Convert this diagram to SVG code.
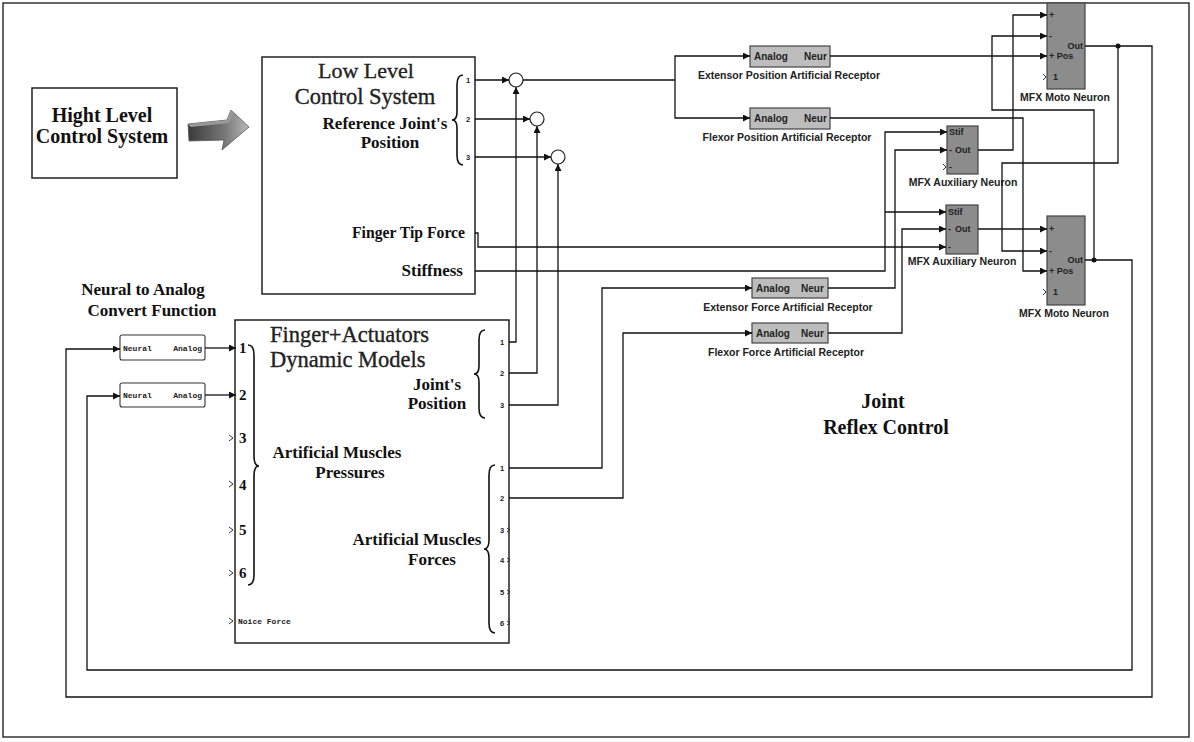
<svg xmlns="http://www.w3.org/2000/svg" width="1194" height="742" viewBox="0 0 1194 742">
<style>
.ln{fill:none;stroke:#111;stroke-width:1.3}
.box{fill:#fff;stroke:#222;stroke-width:1.5}
.rec{fill:#bdbdbd;stroke:#444;stroke-width:1.2}
.neu{fill:#8c8c8c;stroke:#444;stroke-width:1.2}
.nab{fill:#fff;stroke:#333;stroke-width:1.1}
.br{fill:none;stroke:#111;stroke-width:1.6}
.sb{font-family:"Liberation Serif","Times New Roman",serif;font-weight:bold;fill:#111}
.sr{font-family:"Liberation Serif","Times New Roman",serif;fill:#222;stroke:#222;stroke-width:0.35}
.ss{font-family:"Liberation Sans",Arial,sans-serif;font-weight:bold;fill:#222}
.sm{font-family:"Liberation Mono","Courier New",monospace;font-weight:bold;fill:#222}
.c{text-anchor:middle}
.e{text-anchor:end}
.dot{fill:#111}
</style>
<defs>
<marker id="ar" markerUnits="userSpaceOnUse" markerWidth="8" markerHeight="8" refX="7" refY="3.5" orient="auto">
<path d="M0,0 L7,3.5 L0,7 z" fill="#111"/>
</marker>
<linearGradient id="ag" x1="0" y1="0" x2="1" y2="0">
<stop offset="0" stop-color="#3a3a3a"/>
<stop offset="0.6" stop-color="#777"/>
<stop offset="1" stop-color="#bbb"/>
</linearGradient>
</defs>
<rect x="3" y="3" width="1186" height="734" fill="#fff" stroke="#333" stroke-width="1.5"/>

<g id="high-level">
<rect class="box" x="32" y="88" width="145" height="90"/>
<text class="sb c" x="102" y="122" font-size="20">Hight Level</text>
<text class="sb c" x="102" y="143" font-size="20">Control System</text>
</g>
<g id="big-arrow">
<polygon points="188,124 227,120 231,110 249,127 222,150 224,140 189,141" fill="url(#ag)" stroke="#555" stroke-width="0.8"/>
<polygon points="188,124 227,120 231,110 234,113 229,123 191,127" fill="#999"/>
</g>

<g id="low-level">
<rect class="box" x="262" y="57" width="213" height="237"/>
<text class="sr c" x="366" y="78" font-size="22">Low Level</text>
<text class="sr c" x="365" y="104" font-size="22.5">Control System</text>
<text class="sb c" x="385" y="129" font-size="17">Reference Joint's</text>
<text class="sb c" x="390" y="148" font-size="17">Position</text>
<path class="br" d="M463,75 Q457,75 457,85 L457,112 Q457,120 452,120 Q457,120 457,128 L457,155 Q457,165 463,165"/>
<text class="ss" x="466" y="83" font-size="7.5">1</text>
<text class="ss" x="466" y="122" font-size="7.5">2</text>
<text class="ss" x="466" y="160" font-size="7.5">3</text>
<text class="sb e" x="465" y="238" font-size="15.7">Finger Tip Force</text>
<text class="sb e" x="463" y="276" font-size="17">Stiffness</text>
</g>

<g id="sum1"><circle cx="516" cy="80" r="7" fill="#fff" stroke="#222" stroke-width="1.2"/></g>
<g id="sum2"><circle cx="537" cy="119" r="7" fill="#fff" stroke="#222" stroke-width="1.2"/></g>
<g id="sum3"><circle cx="558" cy="157" r="7" fill="#fff" stroke="#222" stroke-width="1.2"/></g>

<g id="ext-pos-receptor">
<rect class="rec" x="750" y="46" width="80" height="21"/>
<text class="ss" x="754" y="60" font-size="10">Analog</text>
<text class="ss" x="804" y="60" font-size="10">Neur</text>
<text class="ss c" x="789" y="79" font-size="10.5">Extensor Position Artificial Receptor</text>
</g>
<g id="flex-pos-receptor">
<rect class="rec" x="750" y="108" width="80" height="21"/>
<text class="ss" x="754" y="122" font-size="10">Analog</text>
<text class="ss" x="804" y="122" font-size="10">Neur</text>
<text class="ss c" x="787" y="141" font-size="10.5">Flexor Position Artificial Receptor</text>
</g>
<g id="ext-force-receptor">
<rect class="rec" x="752" y="278" width="76" height="20"/>
<text class="ss" x="756" y="292" font-size="10">Analog</text>
<text class="ss" x="801" y="292" font-size="10">Neur</text>
<text class="ss c" x="788" y="311" font-size="10.5">Extensor Force Artificial Receptor</text>
</g>
<g id="flex-force-receptor">
<rect class="rec" x="752" y="323" width="76" height="20"/>
<text class="ss" x="756" y="337" font-size="10">Analog</text>
<text class="ss" x="801" y="337" font-size="10">Neur</text>
<text class="ss c" x="786" y="356" font-size="10.5">Flexor Force Artificial Receptor</text>
</g>

<g id="aux-neuron-1">
<rect class="neu" x="947" y="126" width="31" height="48"/>
<text class="ss" x="949" y="135" font-size="9">Stif</text>
<text class="ss" x="949" y="153" font-size="9">-</text>
<text class="ss" x="955" y="153" font-size="9">Out</text>
<text class="ss" x="949" y="170" font-size="9">-</text>
<text class="ss c" x="963" y="186" font-size="10.5">MFX Auxiliary Neuron</text>
</g>
<g id="aux-neuron-2">
<rect class="neu" x="946" y="205" width="32" height="49"/>
<text class="ss" x="948" y="215" font-size="9">Stif</text>
<text class="ss" x="948" y="232" font-size="9">-</text>
<text class="ss" x="955" y="232" font-size="9">Out</text>
<text class="ss" x="948" y="250" font-size="9">-</text>
<text class="ss c" x="962" y="265" font-size="10.5">MFX Auxiliary Neuron</text>
</g>
<g id="moto-neuron-1">
<rect class="neu" x="1047" y="3" width="38" height="86"/>
<text class="ss" x="1049" y="18" font-size="9">+</text>
<text class="ss" x="1049" y="39" font-size="9">-</text>
<text class="ss" x="1049" y="59" font-size="9">+ Pos</text>
<text class="ss" x="1053" y="80" font-size="9">1</text>
<text class="ss e" x="1083" y="49" font-size="9">Out</text>
<text class="ss c" x="1065" y="101" font-size="10.5">MFX Moto  Neuron</text>
</g>
<g id="moto-neuron-2">
<rect class="neu" x="1047" y="216" width="38" height="89"/>
<text class="ss" x="1049" y="232" font-size="9">+</text>
<text class="ss" x="1049" y="254" font-size="9">-</text>
<text class="ss" x="1049" y="274" font-size="9">+ Pos</text>
<text class="ss" x="1053" y="295" font-size="9">1</text>
<text class="ss e" x="1083" y="263" font-size="9">Out</text>
<text class="ss c" x="1064" y="317" font-size="10.5">MFX Moto Neuron</text>
</g>

<g id="neural-analog-title">
<text class="sb c" x="143" y="295" font-size="17">Neural to Analog</text>
<text class="sb c" x="152" y="316" font-size="17">Convert Function</text>
</g>
<g id="neural-analog-1">
<rect class="nab" x="120" y="335" width="85" height="25" rx="2"/>
<text class="sm" x="123" y="351" font-size="8">Neural</text>
<text class="sm e" x="202" y="351" font-size="8">Analog</text>
</g>
<g id="neural-analog-2">
<rect class="nab" x="120" y="383" width="85" height="24" rx="2"/>
<text class="sm" x="123" y="398" font-size="8">Neural</text>
<text class="sm e" x="202" y="398" font-size="8">Analog</text>
</g>

<g id="finger-model">
<rect class="box" x="235" y="320" width="274" height="323"/>
<text class="sr" x="270" y="342" font-size="22.5">Finger+Actuators</text>
<text class="sr" x="270" y="367" font-size="22.5">Dynamic Models</text>
<text class="sb" x="239" y="353" font-size="15">1</text>
<text class="sb" x="239" y="400" font-size="15">2</text>
<text class="sb" x="239" y="443" font-size="15">3</text>
<text class="sb" x="239" y="490" font-size="15">4</text>
<text class="sb" x="239" y="535" font-size="15">5</text>
<text class="sb" x="239" y="578" font-size="15">6</text>
<path d="M229,435 L233,438 L229,441 M229,481 L233,484 L229,487 M229,527 L233,530 L229,533 M229,570 L233,573 L229,576 M229,618 L233,621 L229,624" fill="none" stroke="#333" stroke-width="1"/>
<path class="br" d="M248,345 Q254,345 254,355 L254,456 Q254,466 259,466 Q254,466 254,476 L254,575 Q254,585 248,585"/>
<text class="sb c" x="337" y="458" font-size="17">Artificial Muscles</text>
<text class="sb c" x="350" y="478" font-size="17">Pressures</text>
<text class="sm" x="238" y="624" font-size="8">Noice Force</text>
<text class="sb c" x="437" y="390" font-size="17">Joint's</text>
<text class="sb c" x="437" y="409" font-size="17">Position</text>
<path class="br" d="M485,330 Q479,330 479,340 L479,366 Q479,374 474,374 Q479,374 479,382 L479,408 Q479,418 485,418"/>
<text class="sb c" x="417" y="545" font-size="17">Artificial Muscles</text>
<text class="sb c" x="432" y="565" font-size="17">Forces</text>
<path class="br" d="M495,465 Q489,465 489,475 L489,540 Q489,549 484,549 Q489,549 489,558 L489,623 Q489,633 495,633"/>
<g class="ss" font-size="7.5">
<text x="500" y="345">1</text>
<text x="500" y="376">2</text>
<text x="500" y="408">3</text>
<text x="500" y="471">1</text>
<text x="500" y="501">2</text>
<text x="500" y="533">3</text>
<text x="500" y="563">4</text>
<text x="500" y="595">5</text>
<text x="500" y="626">6</text>
</g>
<path d="M507,528 L510,530 L507,532 M507,558 L510,560 L507,562 M507,590 L510,592 L507,594 M507,621 L510,623 L507,625" fill="none" stroke="#333" stroke-width="1"/>
</g>

<g id="joint-reflex-label">
<text class="sb c" x="883" y="408" font-size="20">Joint</text>
<text class="sb c" x="886" y="434" font-size="20">Reflex Control</text>
</g>

<g id="connectors">
<path class="ln" d="M475,80 L509,80" marker-end="url(#ar)"/>
<path class="ln" d="M475,119 L530,119" marker-end="url(#ar)"/>
<path class="ln" d="M475,157 L551,157" marker-end="url(#ar)"/>
<path class="ln" d="M509,342 L516,342 L516,87" marker-end="url(#ar)"/>
<path class="ln" d="M509,373 L537,373 L537,126" marker-end="url(#ar)"/>
<path class="ln" d="M509,405 L558,405 L558,164" marker-end="url(#ar)"/>
<path class="ln" d="M523,80 L675,80"/>
<path class="ln" d="M675,80 L675,56 L750,56" marker-end="url(#ar)"/>
<path class="ln" d="M675,80 L675,118 L750,118" marker-end="url(#ar)"/>
<path class="ln" d="M830,56 L1047,56" marker-end="url(#ar)"/>
<path class="ln" d="M830,118 L1023,118 L1023,271 L1047,271" marker-end="url(#ar)"/>
<path class="ln" d="M475,271 L885,271 L885,132 L947,132" marker-end="url(#ar)"/>
<path class="ln" d="M885,212 L946,212" marker-end="url(#ar)"/>
<path class="ln" d="M475,233 L478,233 L478,247 L946,247" marker-end="url(#ar)"/>
<path class="ln" d="M509,468 L602,468 L602,288 L752,288" marker-end="url(#ar)"/>
<path class="ln" d="M509,498 L623,498 L623,333 L752,333" marker-end="url(#ar)"/>
<path class="ln" d="M828,288 L895,288 L895,150 L947,150" marker-end="url(#ar)"/>
<path class="ln" d="M828,333 L902,333 L902,229 L946,229" marker-end="url(#ar)"/>
<path class="ln" d="M978,150 L1013,150 L1013,15 L1047,15" marker-end="url(#ar)"/>
<path class="ln" d="M978,229 L1047,229" marker-end="url(#ar)"/>
<path class="ln" d="M1085,46 L1152,46 L1152,697 L66,697 L66,349 L120,349" marker-end="url(#ar)"/>
<path class="ln" d="M1118,46 L1118,163 L1002,163 L1002,251 L1047,251" marker-end="url(#ar)"/>
<circle class="dot" cx="1118" cy="46" r="2.5"/>
<path class="ln" d="M1085,260 L1132,260 L1132,670 L87,670 L87,396 L120,396" marker-end="url(#ar)"/>
<path class="ln" d="M1094,260 L1094,110 L992,110 L992,36 L1047,36" marker-end="url(#ar)"/>
<circle class="dot" cx="1094" cy="260" r="2.5"/>
<path class="ln" d="M205,348 L236,348" marker-end="url(#ar)"/>
<path class="ln" d="M205,395 L236,395" marker-end="url(#ar)"/>
<path d="M1043,74 L1046,77 L1043,80 M1043,289 L1046,292 L1043,295 M943,164 L946,167 L943,170" fill="none" stroke="#333" stroke-width="1"/>
</g>
</svg>
